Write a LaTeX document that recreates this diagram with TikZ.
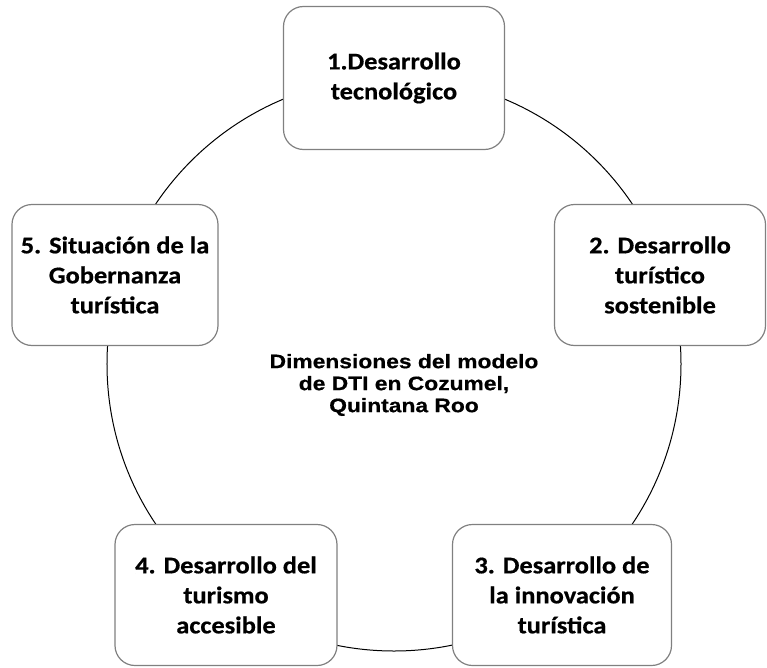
\documentclass[tikz,border=0pt]{standalone}
\usepackage{fontspec}
\setmainfont{Carlito}[FakeStretch=1.1, BoldFeatures={FakeBold=0.6}]
\newfontfamily\arialfont{Liberation Sans}[FakeStretch=1.17, BoldFeatures={FakeBold=0.5}]
\usetikzlibrary{positioning}
\tikzset{
  dimbox/.style={rectangle, draw=black!50, line width=1.2pt, rounded corners=20pt,
                 fill=white, minimum width=216pt, minimum height=141pt,
                 align=center, inner sep=2pt,
                 font=\fontsize{24}{30}\selectfont\bfseries},
  ringline/.style={draw=black, line width=1pt},
  titletext/.style={align=center, font=\arialfont\fontsize{19.5}{22}\selectfont\bfseries},
}

\begin{document}
\begin{tikzpicture}[x=1pt, y=1pt]

  \useasboundingbox (-394,-303) rectangle (373,364);

  %% Ring through the dimensions
  \coordinate (centre) at (0,0);
  \draw[ringline] (centre) circle (287);

  %% Dimensions
  \node[dimbox, minimum width=221pt, minimum height=143pt] (dim1) at (0,286)
    {1.Desarrollo\\tecnológico};

  \node[dimbox, minimum width=211pt] (dim2) at (266,89)
    {2. Desarrollo\\turístico\\sostenible};

  \node[dimbox, minimum width=219pt] (dim3) at (168,-231)
    {3. Desarrollo de\\la innovación\\turística};

  \node[dimbox, minimum width=222pt] (dim4) at (-168,-231)
    {4. Desarrollo del\\turismo\\accesible};

  \node[dimbox, minimum width=206pt] (dim5) at (-279,89)
    {5. Situación de la\\Gobernanza\\turística};

  %% Title in the middle
  \node[titletext] (title) at (10,-21)
    {Dimensiones del modelo\\de DTI en Cozumel,\\Quintana Roo};

\end{tikzpicture}
\end{document}
